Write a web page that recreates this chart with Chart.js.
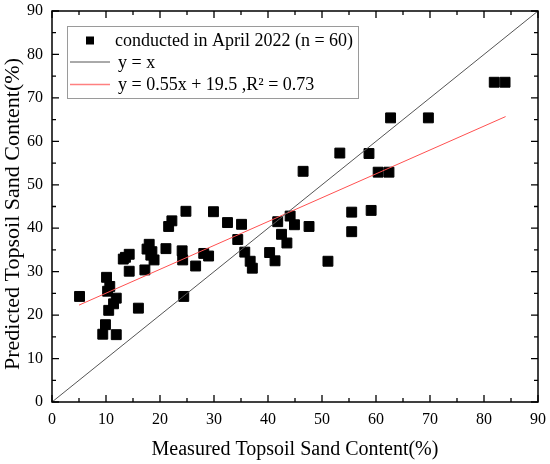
<!DOCTYPE html>
<html>
<head>
<meta charset="utf-8">
<script src="https://cdn.jsdelivr.net/npm/chart.js@4"></script>
<style>
  html, body { margin: 0; padding: 0; background: #fff; }
  #wrap { width: 550px; height: 464px; }
</style>
</head>
<body>
<div id="wrap"><canvas id="sandChart"></canvas></div>
<script>
// measured vs predicted topsoil sand content
const measured = [5.1, 10.1, 10.7, 10.3, 11.9, 11.4, 10.5, 9.9, 9.4, 11.9, 16.0, 14.3, 13.2, 14.3, 13.6,
    17.2, 18.0, 17.6, 18.5, 18.9, 18.3, 21.1, 21.6, 22.2, 24.8, 29.9, 24.1, 24.2, 24.4, 26.6, 28.1, 29.0,
    32.5, 35.1, 34.4, 35.7, 36.7, 37.1, 40.3, 41.3, 41.8, 42.5, 43.5, 44.1, 44.9, 47.6, 46.5, 51.1, 53.3,
    55.5, 55.5, 58.7, 59.1, 60.4, 62.4, 62.7, 69.7, 81.9, 83.9];
const predicted = [24.3, 28.7, 26.6, 25.5, 23.9, 22.6, 21.1, 17.8, 15.6, 15.5, 21.6, 30.1, 32.9, 34.0, 33.3,
    30.4, 36.3, 35.2, 34.6, 32.7, 33.8, 35.3, 40.4, 41.7, 43.9, 43.8, 34.8, 32.7, 24.3, 31.3, 34.2, 33.6,
    41.3, 40.9, 37.4, 34.5, 32.4, 30.8, 34.4, 32.5, 41.5, 38.6, 36.6, 42.8, 40.8, 40.4, 53.1, 32.4, 57.3,
    43.7, 39.2, 57.2, 44.1, 52.9, 52.9, 65.4, 65.4, 73.6, 73.6];

// reference line and fitted line end points
const identityX = [0, 90];
const identityY = [0, 90];
const fitX = [5, 84];
const fitY = [22.3, 65.7];

const axisMin = 0;
const axisMax = 90;
const legendLabels = ['conducted in April 2022 (n = 60)', 'y = x', 'y = 0.55x + 19.5 ,R² = 0.73'];
const yTitle = 'Predicted Topsoil Sand Content(%)';

const serif = '"Liberation Serif", "Times New Roman", serif';

const toPoints = (xs, ys) => xs.map((x, i) => ({ x: x, y: ys[i] }));

// frame with inward ticks on all four sides
const framePlugin = {
    id: 'frame',
    afterDraw(chart) {
        const { ctx, chartArea: a, scales: { x, y } } = chart;
        ctx.save();
        ctx.strokeStyle = '#000';
        ctx.lineWidth = 1.5;
        ctx.strokeRect(a.left, a.top, a.right - a.left, a.bottom - a.top);
        ctx.lineWidth = 1.3;
        ctx.beginPath();
        for (let v = axisMin; v <= axisMax; v += 5) {
            const len = v % 10 === 0 ? 7 : 4;
            const px = x.getPixelForValue(v);
            ctx.moveTo(px, a.bottom); ctx.lineTo(px, a.bottom - len);
            ctx.moveTo(px, a.top); ctx.lineTo(px, a.top + len);
            const py = y.getPixelForValue(v);
            ctx.moveTo(a.left, py); ctx.lineTo(a.left + len, py);
            ctx.moveTo(a.right, py); ctx.lineTo(a.right - len, py);
        }
        ctx.stroke();

        // y title sits a bit below the middle of the axis in the original
        ctx.translate(13, 214);
        ctx.rotate(-Math.PI / 2);
        ctx.font = '22px ' + serif;
        ctx.fillStyle = '#000';
        ctx.textAlign = 'center';
        ctx.textBaseline = 'middle';
        ctx.fillText(yTitle, 0, 0);
        ctx.restore();
    }
};

const legendPlugin = {
    id: 'boxLegend',
    afterDraw(chart) {
        const { ctx } = chart;
        ctx.save();
        ctx.strokeStyle = '#9a9a9a';
        ctx.lineWidth = 1;
        ctx.strokeRect(67.5, 26.5, 291, 72);
        ctx.font = '18px ' + serif;
        ctx.fillStyle = '#000';
        ctx.textBaseline = 'middle';
        ctx.fillRect(86, 36.5, 8, 8);
        ctx.fillText(legendLabels[0], 115, 41);
        ctx.strokeStyle = '#555';
        ctx.beginPath(); ctx.moveTo(70, 62); ctx.lineTo(110, 62); ctx.stroke();
        ctx.fillText(legendLabels[1], 118, 63);
        ctx.strokeStyle = '#ff8080';
        ctx.lineWidth = 1.5;
        ctx.beginPath(); ctx.moveTo(70, 84.5); ctx.lineTo(110, 84.5); ctx.stroke();
        ctx.fillText(legendLabels[2], 118, 85);
        ctx.restore();
    }
};

const ctx = document.getElementById('sandChart').getContext('2d');
new Chart(ctx, {
    type: 'scatter',
    data: {
        datasets: [
            {
                type: 'line',
                data: toPoints(identityX, identityY),
                borderColor: '#555',
                borderWidth: 1,
                pointRadius: 0,
                fill: false
            },
            {
                type: 'line',
                data: toPoints(fitX, fitY),
                borderColor: '#ff5050',
                borderWidth: 1,
                pointRadius: 0,
                fill: false
            },
            {
                data: toPoints(measured, predicted),
                pointStyle: 'rect',
                pointRadius: 7,
                backgroundColor: '#000',
                borderColor: '#000',
                borderWidth: 1
            }
        ]
    },
    options: {
        responsive: true,
        maintainAspectRatio: false,
        animation: false,
        layout: { padding: { top: 11, right: 12, left: 0, bottom: 0 } },
        plugins: {
            legend: { display: false },
            tooltip: { enabled: false }
        },
        scales: {
            x: {
                type: 'linear',
                min: axisMin,
                max: axisMax,
                afterFit: (scale) => {
                    scale.height = 62;
                    scale.paddingLeft = 0;
                    scale.paddingRight = 0;
                },
                grid: { display: false, drawTicks: false },
                border: { display: false },
                ticks: { stepSize: 10, padding: 8, color: '#000', font: { family: serif, size: 16 } },
                title: {
                    display: true,
                    text: 'Measured Topsoil Sand Content(%)',
                    color: '#000',
                    font: { family: serif, size: 20 },
                    padding: { bottom: 2 }
                }
            },
            y: {
                type: 'linear',
                min: axisMin,
                max: axisMax,
                afterFit: (scale) => {
                    scale.width = 52;
                    scale.paddingTop = 0;
                    scale.paddingBottom = 0;
                },
                grid: { display: false, drawTicks: false },
                border: { display: false },
                ticks: { stepSize: 10, padding: 9, color: '#000', font: { family: serif, size: 16 } },
                title: { display: false }
            }
        }
    },
    plugins: [framePlugin, legendPlugin]
});
</script>
</body>
</html>
